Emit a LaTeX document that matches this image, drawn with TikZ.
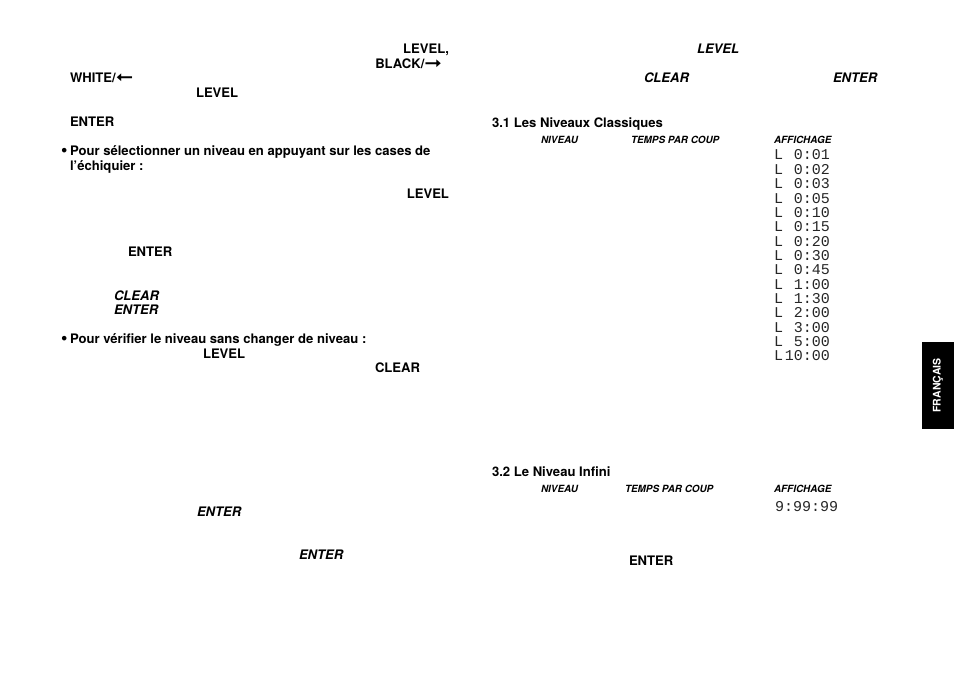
\documentclass[tikz,border=0pt]{standalone}
\usepackage{fontspec}
\usepackage{graphicx}
\setmainfont{TeX Gyre Heros}
\newfontfamily\symf{DejaVu Sans}
\newfontfamily\lcd{Liberation Mono}
\newcommand\rarr{{\symf\bfseries\raisebox{-0.3pt}[1.2ex][0pt]{\scalebox{1.6}[1.4]{➞}}}}
\newcommand\larr{{\symf\bfseries\raisebox{-0.3pt}[1.2ex][0pt]{\scalebox{-1.6}[1.4]{➞}}}}
\begin{document}
\begin{tikzpicture}[x=1pt,y=-1pt,
  every node/.style={inner sep=0pt,outer sep=0pt},
  txt/.style={anchor=base west,font=\bfseries\fontsize{13.1}{15}\selectfont},
  txtr/.style={anchor=base east,font=\bfseries\fontsize{13.1}{15}\selectfont},
  itx/.style={anchor=base west,font=\bfseries\itshape\fontsize{13.1}{15}\selectfont},
  ttl/.style={anchor=base west,font=\bfseries\fontsize{13.1}{15}\selectfont},
  hdr/.style={anchor=base west,font=\bfseries\itshape\fontsize{9.9}{11}\selectfont},
  lcdrow/.style={anchor=base west,text=black!85,font=\lcd\fontsize{15}{16}\selectfont}]
\useasboundingbox (0,0) rectangle (954,674);
% left column
\node[txtr] (n1) at (449,54) {LEVEL,};
\node[txtr] (n2) at (442,69) {BLACK/\rarr};
\node[txt] (n3) at (70,83) {WHITE/\larr};
\node[txt] (n4) at (196,98) {LEVEL};
\node[txt] (n5) at (70,127) {ENTER};
\node[txt] (n6) at (60,156) {\makebox[10pt][l]{{\symf •}}Pour sélectionner un niveau en appuyant sur les cases de};
\node[txt] (n7) at (70,171) {l’échiquier :};
\node[txtr] (n8) at (449,199) {LEVEL};
\node[txt] (n9) at (128,256) {ENTER};
\node[itx] (n10) at (114,300) {CLEAR};
\node[itx] (n11) at (114,314) {ENTER};
\node[txt] (n12) at (60,343) {\makebox[10pt][l]{{\symf •}}Pour vérifier le niveau sans changer de niveau :};
\node[txt] (n13) at (203,358) {LEVEL};
\node[txt] (n14) at (375,372) {CLEAR};
\node[itx] (n15) at (197,516) {ENTER};
\node[itx] (n16) at (299,559) {ENTER};
% right column
\node[itx] (r1) at (697,54) {LEVEL};
\node[itx] (r2) at (644,83) {CLEAR};
\node[itx] (r3) at (833,83) {ENTER};
\node[ttl] (t1) at (492,128) {3.1 Les Niveaux Classiques};
\node[hdr] (h1) at (541,144) {NIVEAU};
\node[hdr] (h2) at (631,144) {TEMPS PAR COUP};
\node[hdr] (h3) at (774,144) {AFFICHAGE};
\foreach \t [count=\i from 0] in {0:01,0:02,0:03,0:05,0:10,0:15,0:20,0:30,0:45,1:00,1:30,2:00,3:00,5:00,10:00}{
  \node[lcdrow] (l\i) at (774,160+14.35*\i) {\makebox[56pt][s]{L\hfill\t}};
}
\node[ttl] (t2) at (492,476) {3.2 Le Niveau Infini};
\node[hdr] (h4) at (541,492) {NIVEAU};
\node[hdr] (h5) at (625,492) {TEMPS PAR COUP};
\node[hdr] (h6) at (774,492) {AFFICHAGE};
\node[lcdrow] (inf) at (775,511) {9:99:99};
\node[txt] (r4) at (629,565) {ENTER};
% side tab
\node[fill=black,minimum width=32pt,minimum height=87pt] (tab) at (938,385.5) {};
\node[rotate=90,text=white,font=\bfseries\fontsize{10.5}{12}\selectfont] (tabt) at (tab.center) {FRANÇAIS};
\end{tikzpicture}
\end{document}
